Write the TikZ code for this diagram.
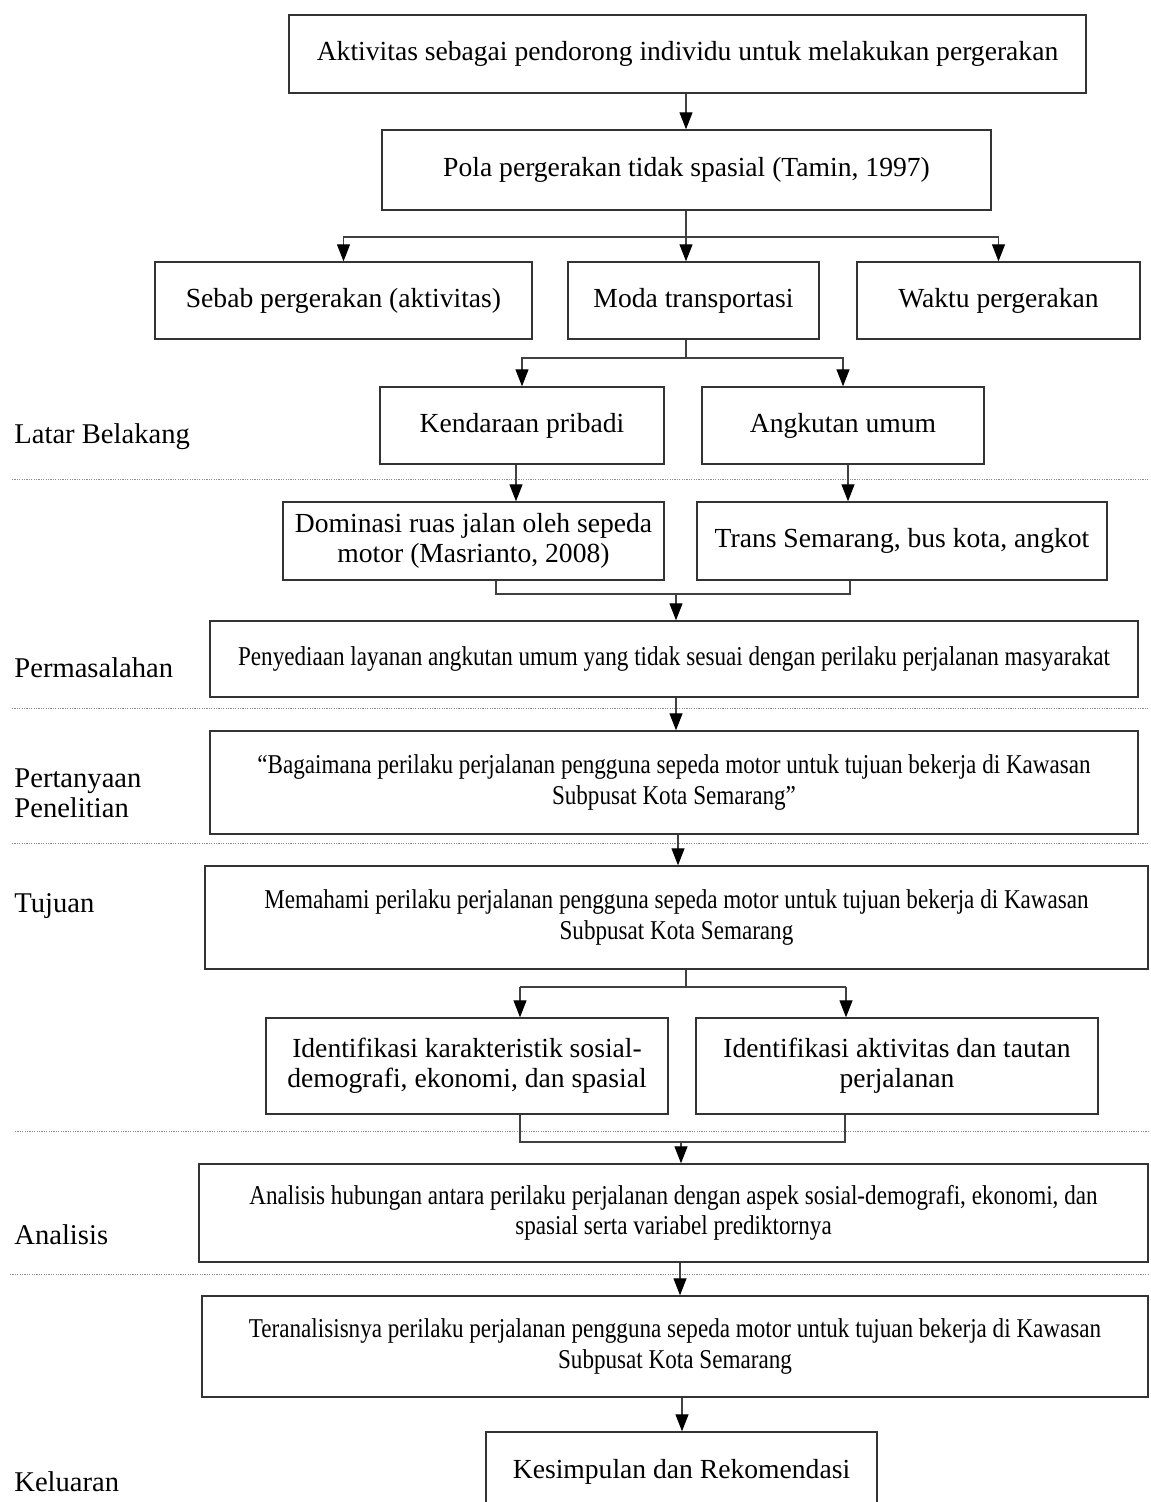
\documentclass[tikz,border=0pt]{standalone}
\usepackage{fontspec}
\setmainfont{Liberation Serif}
\newfontfamily\condfont[FakeStretch=0.85]{Liberation Serif}
\usetikzlibrary{arrows.meta,calc}
\newcommand{\bigtxt}{\fontsize{13.8}{15.2}\selectfont}
\newcommand{\smalltxt}{\condfont\fontsize{13.6}{15.2}\selectfont}
\newcommand{\bx}[6]{\node[#1, minimum width={(#5-#3)*0.5pt}, minimum height={(#6-#4)*0.5pt}] (#2) at ({(#3+#5)/2},{(#4+#6)/2})}
\begin{document}
\begin{tikzpicture}[x=0.5pt,y=-0.5pt,
  box/.style={draw=black!80, line width=0.7pt, inner sep=0pt, align=center, font=\bigtxt},
  sbox/.style={box, font=\smalltxt},
  lab/.style={anchor=west, inner sep=0pt, font=\fontsize{14.3}{15.2}\selectfont, align=left},
  line/.style={draw=black!75, line width=0.6pt},
  arr/.style={line, -{Triangle[length=8.5pt,width=6.5pt,color=black]}},
  sep/.style={draw=black!45, line width=0.5pt, dash pattern=on 0.6pt off 0.6pt}]
\clip (0,0) rectangle (1150,1502);
\fill[white] (0,0) rectangle (1150,1502);

% separators
\draw[sep] (12,479) -- (1150,479);
\draw[sep] (12,708) -- (1150,708);
\draw[sep] (12,843) -- (1150,843);
\draw[sep] (15,1131) -- (1150,1131);
\draw[sep] (10,1274) -- (1150,1274);

% left labels
\node[lab] (lLB) at (14,437) {Latar Belakang};
\node[lab] (lPM) at (14,668) {Permasalahan};
\node[lab] (lPP) at (14,793) {Pertanyaan\\Penelitian};
\node[lab] (lTJ) at (14,906) {Tujuan};
\node[lab] (lAN) at (14,1235) {Analisis};
\node[lab] (lKL) at (14,1482) {Keluaran};

% boxes
\bx{box}{A}{289}{15}{1086}{93} {Aktivitas sebagai pendorong individu untuk melakukan pergerakan};
\bx{box}{B}{382}{130}{991}{210} {Pola pergerakan tidak spasial (Tamin, 1997)};
\bx{box}{C1}{155}{262}{532}{339} {Sebab pergerakan (aktivitas)};
\bx{box}{C2}{568}{262}{819}{339} {Moda transportasi};
\bx{box}{C3}{857}{262}{1140}{339} {Waktu pergerakan};
\bx{box}{D1}{380}{387}{664}{464} {Kendaraan pribadi};
\bx{box}{D2}{702}{387}{984}{464} {Angkutan umum};
\bx{box}{E1}{283}{502}{664}{580} {Dominasi ruas jalan oleh sepeda\\motor (Masrianto, 2008)};
\bx{box}{E2}{697}{502}{1107}{580} {Trans Semarang, bus kota, angkot};
\bx{sbox}{F}{210}{621}{1138}{697} {Penyediaan layanan angkutan umum yang tidak sesuai dengan perilaku perjalanan masyarakat};
\bx{sbox}{G}{210}{731}{1138}{834} {“Bagaimana perilaku perjalanan pengguna sepeda motor untuk tujuan bekerja di Kawasan\\Subpusat Kota Semarang”};
\bx{sbox}{H}{205}{866}{1148}{969} {Memahami perilaku perjalanan pengguna sepeda motor untuk tujuan bekerja di Kawasan\\Subpusat Kota Semarang};
\bx{box}{I1}{266}{1018}{668}{1114} {Identifikasi karakteristik sosial-\\demografi, ekonomi, dan spasial};
\bx{box}{I2}{696}{1018}{1098}{1114} {Identifikasi aktivitas dan tautan\\perjalanan};
\bx{sbox}{J}{199}{1164}{1148}{1262} {Analisis hubungan antara perilaku perjalanan dengan aspek sosial-demografi, ekonomi, dan\\spasial serta variabel prediktornya};
\bx{sbox}{K}{202}{1296}{1148}{1397} {Teranalisisnya perilaku perjalanan pengguna sepeda motor untuk tujuan bekerja di Kawasan\\Subpusat Kota Semarang};
\bx{box}{L}{486}{1432}{877}{1512} {Kesimpulan dan Rekomendasi};

% connectors
\coordinate (bj) at (686,237);
\draw[arr] (bj |- A.south) -- (bj |- B.north);
\draw[line] (bj |- B.south) -- (bj);
\draw[arr] (bj) -| (C1.north);
\draw[arr] (bj) -| (C3.north);
\draw[arr] (bj) -- (bj |- C2.north);

\coordinate (cj) at (686,358);
\draw[line] (cj |- C2.south) -- (cj);
\draw[arr] (cj) -| (D1.north);
\draw[arr] (cj) -| (D2.north);

\coordinate (dx1) at (516,480);
\coordinate (dx2) at (848,480);
\draw[arr] (dx1 |- D1.south) -- (dx1 |- E1.north);
\draw[arr] (dx2 |- D2.south) -- (dx2 |- E2.north);

\coordinate (ej1) at (496,594);
\coordinate (ej2) at (850,594);
\coordinate (ej) at (676,594);
\draw[line] (ej1 |- E1.south) -- (ej1) -- (ej2) -- (ej2 |- E2.south);
\draw[arr] (ej) -- (ej |- F.north);

\draw[arr] (ej |- F.south) -- (ej |- G.north);
\coordinate (gx) at (678,850);
\draw[arr] (gx |- G.south) -- (gx |- H.north);

\coordinate (hj) at (686,987);
\coordinate (hj1) at (520,987);
\coordinate (hj2) at (846,987);
\draw[line] (hj |- H.south) -- (hj);
\draw[arr] (hj1) -- (hj1 |- I1.north);
\draw[arr] (hj2) -- (hj2 |- I2.north);
\draw[line] (hj1) -- (hj2);

\coordinate (ij1) at (520,1142);
\coordinate (ij2) at (845,1142);
\coordinate (ij) at (681,1142);
\draw[line] (ij1 |- I1.south) -- (ij1) -- (ij2) -- (ij2 |- I2.south);
\draw[arr] (ij) -- (ij |- J.north);

\coordinate (jx) at (680,1280);
\draw[arr] (jx |- J.south) -- (jx |- K.north);
\coordinate (kx) at (682,1410);
\draw[arr] (kx |- K.south) -- (kx |- L.north);
\end{tikzpicture}
\end{document}
